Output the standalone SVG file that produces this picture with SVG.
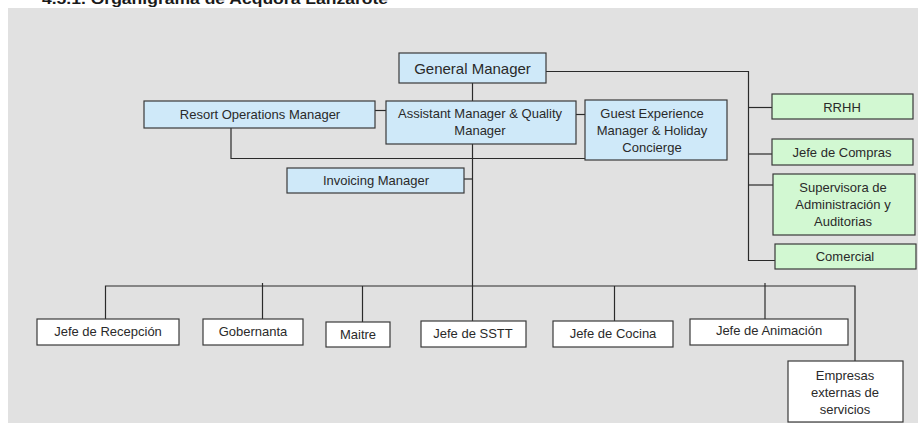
<svg xmlns="http://www.w3.org/2000/svg" width="918" height="423" viewBox="0 0 918 423">
<style>
.box{stroke:#3a3a3a;stroke-width:1.2}
.blue{fill:#cfe9f9}
.green{fill:#d2f8d2}
.white{fill:#ffffff}
.t{font-family:"Liberation Sans",Arial,sans-serif;font-size:13px;fill:#2a2a2a;text-anchor:middle}
.c{fill:none;stroke:#2a2a2a;stroke-width:1.2}
</style>
<rect x="0" y="0" width="918" height="423" fill="#ffffff"/>
<rect x="8" y="8" width="910" height="415" fill="#e1e1e1"/>
<text x="42" y="4" font-family="Liberation Sans,Arial,sans-serif" font-size="14" font-weight="bold" fill="#1a1a1a" textLength="346" lengthAdjust="spacingAndGlyphs">4.5.1. Organigrama  de Acquora Lanzarote</text>

<g id="connectors">
<polyline class="c" points="472.5,83 472.5,101"/>
<polyline class="c" points="546,71.5 748.5,71.5 748.5,260.5 775,260.5"/>
<polyline class="c" points="748.5,107.5 772,107.5"/>
<polyline class="c" points="748.5,154 772,154"/>
<polyline class="c" points="748.5,185 773,185"/>
<polyline class="c" points="375,110.5 386,110.5"/>
<polyline class="c" points="576,114.5 585,114.5"/>
<polyline class="c" points="231,128 231,158.5 637,158.5 637,148"/>
<polyline class="c" points="472.5,144 472.5,321"/>
<polyline class="c" points="464,179 472.5,179"/>
<polyline class="c" points="105.5,319 105.5,286 855,286 855,361"/>
<polyline class="c" points="262.5,283 262.5,319"/>
<polyline class="c" points="362.5,286 362.5,322"/>
<polyline class="c" points="614.5,286 614.5,321"/>
<polyline class="c" points="765,283 765,319"/>
</g>

<g id="general-manager">
<rect class="box blue" x="399" y="53" width="147" height="30"/>
<text class="t" x="472.5" y="73.5" font-size="15" style="font-size:15px">General Manager</text>
</g>
<g id="assistant-manager">
<rect class="box blue" x="386" y="101" width="190" height="43"/>
<text class="t" x="480" y="118">Assistant Manager &amp; Quality</text>
<text class="t" x="480" y="135">Manager</text>
</g>
<g id="guest-experience">
<rect class="box blue" x="585" y="100" width="142" height="60"/>
<text class="t" x="652" y="118">Guest Experience</text>
<text class="t" x="652" y="135">Manager &amp; Holiday</text>
<text class="t" x="652" y="152">Concierge</text>
</g>
<g id="resort-operations">
<rect class="box blue" x="144" y="101" width="231" height="27"/>
<text class="t" x="260" y="119">Resort Operations Manager</text>
</g>
<g id="invoicing-manager">
<rect class="box blue" x="287" y="168" width="177" height="25"/>
<text class="t" x="376" y="185">Invoicing Manager</text>
</g>

<g id="rrhh">
<rect class="box green" x="772" y="94" width="141" height="25"/>
<text class="t" x="842" y="112">RRHH</text>
</g>
<g id="jefe-compras">
<rect class="box green" x="772" y="139" width="141" height="26"/>
<text class="t" x="842" y="157">Jefe de Compras</text>
</g>
<g id="supervisora">
<rect class="box green" x="773" y="174" width="142" height="61"/>
<text class="t" x="843" y="192">Supervisora de</text>
<text class="t" x="843" y="209">Administración y</text>
<text class="t" x="843" y="226">Auditorias</text>
</g>
<g id="comercial">
<rect class="box green" x="775" y="244" width="141" height="25"/>
<text class="t" x="845" y="261">Comercial</text>
</g>

<g id="jefe-recepcion">
<rect class="box white" x="37" y="319" width="142" height="26"/>
<text class="t" x="108" y="336">Jefe de Recepción</text>
</g>
<g id="gobernanta">
<rect class="box white" x="203" y="319" width="100" height="26"/>
<text class="t" x="253" y="336">Gobernanta</text>
</g>
<g id="maitre">
<rect class="box white" x="326" y="322" width="64" height="25"/>
<text class="t" x="358" y="339">Maitre</text>
</g>
<g id="jefe-sstt">
<rect class="box white" x="421" y="321" width="105" height="26"/>
<text class="t" x="473" y="338">Jefe de SSTT</text>
</g>
<g id="jefe-cocina">
<rect class="box white" x="553" y="321" width="120" height="26"/>
<text class="t" x="613" y="338">Jefe de Cocina</text>
</g>
<g id="jefe-animacion">
<rect class="box white" x="690" y="319" width="158" height="26"/>
<text class="t" x="769" y="335">Jefe de Animación</text>
</g>
<g id="empresas-externas">
<rect class="box white" x="788" y="361" width="115" height="61"/>
<text class="t" x="845" y="380">Empresas</text>
<text class="t" x="845" y="397">externas de</text>
<text class="t" x="845" y="414">servicios</text>
</g>
</svg>
